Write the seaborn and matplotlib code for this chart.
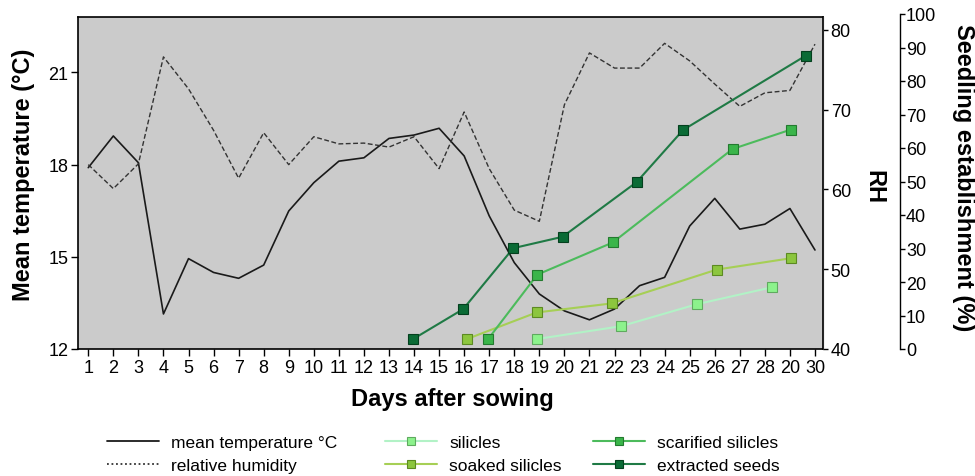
import matplotlib
matplotlib.use("Agg")
import matplotlib.pyplot as plt
from matplotlib.lines import Line2D
import seaborn as sns

# data
days = list(range(1, 31))
day_labels = [str(d) for d in range(1, 29)] + ["20", "30"]
mean_temp = [17.9, 18.93, 18.06, 13.14, 14.94, 14.49, 14.3, 14.73, 16.49, 17.41,
             18.11, 18.22, 18.85, 18.96, 19.18, 18.28, 16.33, 14.81, 13.79, 13.24,
             12.95, 13.3, 14.06, 14.33, 16.0, 16.9, 15.9, 16.06, 16.57, 15.22]
rel_humidity = [63.1, 60.1, 63.2, 76.6, 72.6, 67.4, 61.4, 67.1, 63.1, 66.6,
                65.7, 65.8, 65.3, 66.6, 62.6, 69.7, 62.6, 57.4, 56.0, 70.6,
                77.1, 75.2, 75.2, 78.3, 76.1, 73.2, 70.4, 72.1, 72.4, 78.2]

silicles_day = [18.92, 22.26, 25.3, 28.27]
silicles_pct = [3.0, 6.8, 13.4, 18.4]
soaked_day = [16.12, 18.89, 21.88, 26.08, 29.04]
soaked_pct = [3.0, 10.9, 13.6, 23.7, 27.1]
scarified_day = [16.96, 18.92, 21.93, 26.71, 29.04]
scarified_pct = [3.0, 22.2, 31.8, 59.7, 65.5]
extracted_day = [13.97, 15.96, 17.96, 19.93, 22.88, 24.74, 29.64]
extracted_pct = [3.0, 11.9, 30.1, 33.5, 49.8, 65.4, 87.6]

temp_ticks = [12, 15, 18, 21]
rh_ticks = [40, 50, 60, 70, 80]
pct_ticks = list(range(0, 101, 10))

sns.set_style("ticks")
plt.rcParams["font.family"] = ["Liberation Sans", "DejaVu Sans"]
plt.rcParams["text.color"] = "black"
plt.rcParams["axes.labelcolor"] = "black"
plt.rcParams["xtick.color"] = "black"
plt.rcParams["ytick.color"] = "black"

W, H = 975, 477
fig = plt.figure(figsize=(W / 100, H / 100), dpi=100)
ax1 = fig.add_axes([78 / W, 127 / H, 745 / W, 332 / H])
ax1.set_facecolor("#cbcbcb")
ax2 = ax1.twinx()
ax3 = fig.add_axes([78 / W, 127 / H, 745 / W, 335 / H])
ax3.patch.set_visible(False)

# temperature + humidity
sns.lineplot(x=days, y=mean_temp, ax=ax1, color="#1a1a1a", lw=1.2)
sns.lineplot(x=days, y=rel_humidity, ax=ax2, color="#333333", lw=1.0,
             linestyle=(0, (3.5, 1.8)))

# seedling establishment series: (x, y, line colour, marker fill, marker edge)
series = [
    (silicles_day, silicles_pct, "#b2f2c6", "#8cf28c", "#5faa5f"),
    (soaked_day, soaked_pct, "#a6cf55", "#8cc63e", "#5c8a22"),
    (scarified_day, scarified_pct, "#4cbb5c", "#3ab54a", "#237a2f"),
    (extracted_day, extracted_pct, "#1f7a45", "#0a6b35", "#04401e"),
]
for xd, yd, lc, fc, ec in series:
    sns.lineplot(x=xd, y=yd, ax=ax3, color=lc, lw=1.5, marker="s", markersize=7,
                 markerfacecolor=fc, mec=ec, mew=0.8)

xlim = (0.59, 30.32)
for ax in (ax1, ax2, ax3):
    ax.set_xlim(xlim)

ax1.set_ylim(12, 22.8)
ax1.set_yticks(temp_ticks)
ax1.set_xticks(days)
ax1.set_xticklabels(day_labels)
ax1.tick_params(axis="both", direction="out", length=5, width=1, labelsize=13,
                pad=2, color="black", labelcolor="black")
for s in ax1.spines.values():
    s.set_visible(True)
    s.set_color("black")
    s.set_linewidth(1.2)

ax2.set_ylim(40, 81.6)
ax2.set_yticks(rh_ticks)
ax2.tick_params(axis="y", direction="out", length=3.5, width=1, labelsize=13, pad=2,
                labelcolor="black")
for k in ("left", "top", "bottom"):
    ax2.spines[k].set_visible(False)
ax2.set_ylabel("")

ax3.set_ylim(0, 100)
ax3.set_yticks(pct_ticks)
ax3.set_xticks([])
ax3.yaxis.tick_right()
for k in ("left", "top", "bottom"):
    ax3.spines[k].set_visible(False)
ax3.spines["right"].set_position(("axes", 1.103))
ax3.spines["right"].set_linewidth(1.0)
ax3.spines["right"].set_color("black")
ax3.tick_params(axis="y", direction="out", length=3.5, width=1, labelsize=13, pad=1,
                labelcolor="black")
ax3.set_xlabel("")
ax3.set_ylabel("")

# axis titles
ax1.set_ylabel("Mean temperature (°C)", fontsize=17, fontweight="bold")
ax1.yaxis.set_label_coords(-0.058, 0.527)
ax1.set_xlabel("Days after sowing", fontsize=17, fontweight="bold")
ax1.xaxis.set_label_coords(0.503, -0.114)
ax1.text(1.068, 0.491, "RH", transform=ax1.transAxes, rotation=270,
         ha="center", va="center", fontsize=17, fontweight="bold")
ax1.text(1.188, 0.518, "Seedling establishment (%)", transform=ax1.transAxes,
         rotation=270, ha="center", va="center", fontsize=17, fontweight="bold")


# legend, three columns placed by hand
def line_handle(color, ls="-"):
    return Line2D([], [], color=color, lw=1.3, ls=ls)


def marker_handle(lc, fc, ec):
    return Line2D([], [], color=lc, lw=1.5, marker="s", markersize=6,
                  markerfacecolor=fc, markeredgecolor=ec, markeredgewidth=0.8)


cols = [
    (107, [line_handle("#1a1a1a"), line_handle("#333333", ls=(0, (1, 1.5)))],
     ["mean temperature °C", "relative humidity"]),
    (385, [marker_handle(*series[0][2:5]), marker_handle(*series[1][2:5])],
     ["silicles", "soaked silicles"]),
    (593, [marker_handle(*series[2][2:5]), marker_handle(*series[3][2:5])],
     ["scarified silicles", "extracted seeds"]),
]
for x0, hs, labs in cols:
    fig.legend(hs, labs, loc="upper left", bbox_to_anchor=(x0 / W, 1 - 436 / H),
               frameon=False, fontsize=12.5, handlelength=3.0, handletextpad=0.7,
               labelspacing=0.42, borderpad=0, borderaxespad=0, numpoints=1)

fig.savefig("out.png", dpi=100)
